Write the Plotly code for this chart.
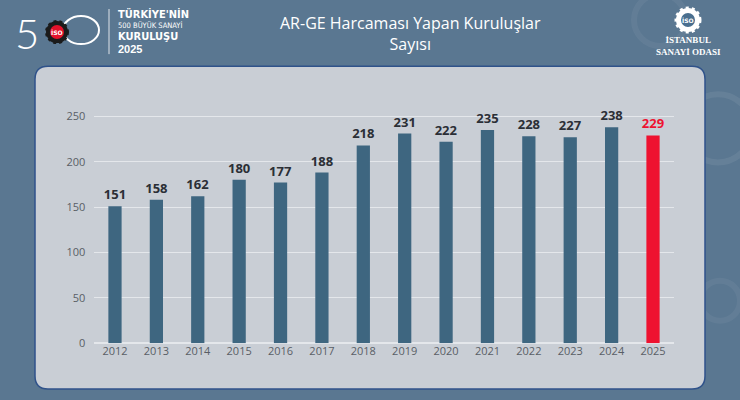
import plotly.graph_objects as go

# data
years = ["2012", "2013", "2014", "2015", "2016", "2017", "2018",
         "2019", "2020", "2021", "2022", "2023", "2024", "2025"]
counts = [151, 158, 162, 180, 177, 188, 218, 231, 222, 235, 228, 227, 238, 229]
y_ticks = [0, 50, 100, 150, 200, 250]

W, H = 740, 392  # effective paper height seen in the rendered page
BG = "#5a7791"
PANEL = "#c9ced5"
BAR = "#3e6680"
RED = "#ee1230"


def px(x):
    return x / W


def py(y):
    return 1 - y / H


def rounded_rect(x0, y0, x1, y1, r):
    # path in paper coords, pixel input (y down)
    pts = [
        f"M {px(x0 + r)},{py(y0)}",
        f"L {px(x1 - r)},{py(y0)}",
        f"Q {px(x1)},{py(y0)} {px(x1)},{py(y0 + r)}",
        f"L {px(x1)},{py(y1 - r)}",
        f"Q {px(x1)},{py(y1)} {px(x1 - r)},{py(y1)}",
        f"L {px(x0 + r)},{py(y1)}",
        f"Q {px(x0)},{py(y1)} {px(x0)},{py(y1 - r)}",
        f"L {px(x0)},{py(y0 + r)}",
        f"Q {px(x0)},{py(y0)} {px(x0 + r)},{py(y0)}",
        "Z",
    ]
    return " ".join(pts)


def circle(cx, cy, rx, ry=None, **kw):
    ry = rx if ry is None else ry
    d = dict(type="circle", xref="paper", yref="paper",
             x0=px(cx - rx), x1=px(cx + rx), y0=py(cy + ry), y1=py(cy - ry))
    d.update(kw)
    return d


colors = [RED if y == "2025" else BAR for y in years]
label_colors = [RED if y == "2025" else "#2b2f36" for y in years]

fig = go.Figure(go.Bar(
    x=years,
    y=counts,
    marker=dict(color=colors, line=dict(width=0)),
    width=0.32,
    text=[str(c) for c in counts],
    textposition="outside",
    constraintext="none",
    textfont=dict(family="Open Sans", size=13, color=label_colors, weight="bold"),
    cliponaxis=False,
    hovertemplate="%{x}: %{y}<extra></extra>",
))

shapes = []
# faint gears in the background
for cx, cy, r, a in [(718, 128, 34, 0.07), (660, 20, 26, 0.05), (640, 170, 22, 0.06),
                     (560, 250, 30, 0.05), (470, 210, 18, 0.05), (720, 300, 20, 0.05)]:
    shapes.append(circle(cx, cy, r, line=dict(color=f"rgba(255,255,255,{a})", width=6),
                         layer="below"))
# panel
shapes.append(dict(type="path", xref="paper", yref="paper",
                   path=rounded_rect(35, 66, 705, 388, 13),
                   fillcolor=PANEL, line=dict(color="#2f528a", width=1.5),
                   layer="below"))

# left logo: "5" + ISO badge + ring, divider line; right logo gear
shapes += [
    circle(81, 30, 18, 14, line=dict(color="white", width=2)),
    circle(57, 32, 11, fillcolor="#1b1b1b", line=dict(color="#1b1b1b", width=2, dash="dot")),
    circle(57, 32, 7, fillcolor="#e3122b", line=dict(width=0)),
    dict(type="line", xref="paper", yref="paper",
         x0=px(109), x1=px(109), y0=py(9), y1=py(54),
         line=dict(color="rgba(255,255,255,0.8)", width=1)),
    circle(688, 20, 12, fillcolor="white", line=dict(color="white", width=3, dash="dot")),
    circle(688, 20, 7, fillcolor="#4a6f8f", line=dict(width=0)),
]

annotations = [
    dict(text="AR-GE Harcaması Yapan Kuruluşlar<br>Sayısı", x=px(410), y=py(33),
         font=dict(family="Open Sans", size=16, color="white")),
    dict(text="5", x=px(27), y=py(33),
         font=dict(family="Lato", size=42, color="white", weight=300)),
    dict(text="İSO", x=px(57), y=py(32),
         font=dict(family="DejaVu Sans", size=6, color="white", weight="bold")),
    dict(text="TÜRKİYE'NİN", x=px(116), y=py(14), xanchor="left",
         font=dict(family="Liberation Sans Narrow, DejaVu Sans Condensed", size=11,
                   color="white", weight="bold")),
    dict(text="500 BÜYÜK SANAYİ", x=px(116), y=py(25.5), xanchor="left",
         font=dict(family="Liberation Sans Narrow, DejaVu Sans Condensed", size=7.5,
                   color="white")),
    dict(text="KURULUŞU", x=px(116), y=py(36.5), xanchor="left",
         font=dict(family="Liberation Sans Narrow, DejaVu Sans Condensed", size=11,
                   color="white", weight="bold")),
    dict(text="2025", x=px(116), y=py(49), xanchor="left",
         font=dict(family="Liberation Sans, Arial", size=11, color="white", weight="bold")),
    dict(text="İSO", x=px(688), y=py(20),
         font=dict(family="DejaVu Sans", size=6, color="white", weight="bold")),
    dict(text="İSTANBUL<br>SANAYİ ODASI", x=px(688), y=py(46),
         font=dict(family="Liberation Serif, DejaVu Serif", size=9, color="white",
                   weight="bold")),
]
for a in annotations:
    a.setdefault("xref", "paper")
    a.setdefault("yref", "paper")
    a.setdefault("showarrow", False)
    a.setdefault("xanchor", "center")
    a.setdefault("yanchor", "middle")

fig.update_layout(
    margin=dict(l=0, r=0, t=0, b=0),
    paper_bgcolor=BG,
    plot_bgcolor="rgba(0,0,0,0)",
    showlegend=False,
    shapes=shapes,
    annotations=annotations,
    xaxis=dict(
        domain=[px(94.3), px(673.7)],
        type="category",
        showgrid=False,
        showline=False,
        ticks="",
        tickfont=dict(family="Open Sans", size=11, color="#595e66"),
    ),
    yaxis=dict(
        domain=[py(342.3), py(107)],
        range=[0, 260],
        tickvals=y_ticks,
        showgrid=True,
        gridcolor="#e4e7eb",
        gridwidth=1,
        zeroline=True,
        zerolinecolor="#e4e7eb",
        showline=False,
        ticks="",
        ticklabelstandoff=8,
        tickfont=dict(family="Open Sans", size=11, color="#595e66"),
    ),
)

fig.write_html(
    "out.html",
    default_width="740px",
    default_height="400px",
    config={"displayModeBar": False},
    post_script="document.body.style.margin='0';document.body.style.overflow='hidden';",
)
